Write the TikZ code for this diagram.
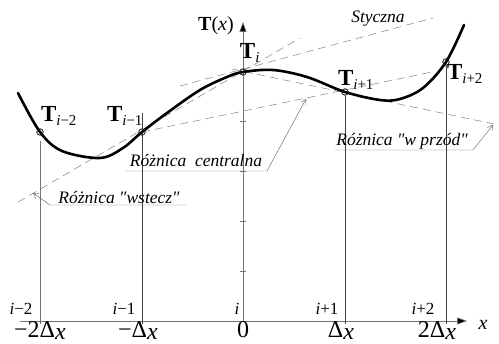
\documentclass[tikz,border=0pt]{standalone}
\usepackage{fontspec}
\setmainfont{Liberation Serif}[Ligatures=TeXOff]
\usetikzlibrary{arrows.meta}
\begin{document}
\begin{tikzpicture}[x=1pt,y=-1pt,
  dashln/.style={draw=black!50, line width=0.5pt, dash pattern=on 8pt off 5pt},
  vline/.style={draw=black!75, line width=0.6pt},
  axisln/.style={draw=black!55, line width=0.6pt},
  leader/.style={draw=black!60, line width=0.45pt},
  ldarrow/.style={leader, -{Straight Barb[length=5pt,width=6pt,line width=0.45pt]}},
  pt/.style={circle, draw=black!85, line width=0.6pt, inner sep=0pt, minimum size=6.5pt},
  lbl/.style={font=\fontsize{17.5}{19}\selectfont\itshape, inner sep=0pt, text height=12pt, text depth=3pt},
  tlbl/.style={font=\fontsize{23}{25}\selectfont, inner sep=0pt},
  idx/.style={font=\fontsize{17}{19}\selectfont, inner sep=0pt},
  val/.style={font=\fontsize{24}{26}\selectfont, inner sep=0pt, anchor=base},
]
\useasboundingbox (0,0) rectangle (499,344);
\newcommand\Tlab[1]{\textbf{T}\textsubscript{\fontsize{15}{16}\selectfont #1}}

% axes
\coordinate (xa0) at (20,321);
\coordinate (xa1) at (467,321);
\coordinate (ya0) at (243,321);
\coordinate (ya1) at (243,22);
\draw[axisln, -{Triangle[length=10pt,width=7pt,fill=black]}] (xa0) -- (xa1);
\draw[axisln, -{Triangle[length=10pt,width=7pt,fill=black]}] (ya0) -- (ya1);
\foreach \yy in {121,171,221,271}
  \draw[axisln] (240,\yy) -- (246,\yy);

% points
\node[pt] (pm2) at (40,132) {};
\node[pt] (pm1) at (142,132) {};
\node[pt] (p0)  at (243,72) {};
\node[pt] (pp1) at (345,92) {};
\node[pt] (pp2) at (446,62) {};

% verticals
\coordinate (bm2) at (40,324);
\coordinate (bm1) at (142,324);
\coordinate (bp1) at (345,324);
\coordinate (bp2) at (446,324);
\coordinate (tm2) at (40,141);
\coordinate (tm1) at (142,113);
\draw[vline, draw=black!55, line width=0.9pt] (tm2) -- (bm2);
\draw[vline] (tm1) -- (bm1);
\draw[vline] (pp1.south) -- (bp1);
\draw[vline] (pp2.south) -- (bp2);

% dashed lines
\coordinate (bwA) at (18,202);
\coordinate (bwB) at (300,38);
\coordinate (ctB) at (432,72);
\coordinate (fwA) at (232,69);
\coordinate (fwB) at (494,124);
\coordinate (stA) at (180,86);
\coordinate (stB) at (433,18);
\draw[dashln] (bwA) -- (bwB);
\draw[dashln] (pm1.center) -- (ctB);
\draw[dashln] (fwA) -- (fwB);
\draw[dashln] (stA) -- (stB);

% curve
\draw[line width=2.6pt, line cap=round, line join=round]
  plot[smooth, tension=0.55] coordinates {(18,93) (40,132) (62,151) (100,158) (123,148) (142,132)
  (167,113) (200,90) (227,77) (243,72) (273,70) (307,77) (345,92) (380,100) (400,99) (423,88)
  (446,62) (464,25)};
\foreach \n in {pm2,pm1,p0,pp1,pp2} \draw[black!85, line width=0.6pt] (\n) circle (3.2pt);

% labels for points
\node[font=\fontsize{20}{22}\selectfont, inner sep=0pt] (tx) at (216,26) {\textbf{T}(\textit{x})};
\node[tlbl] (lt0) at (250,53) {\Tlab{\textit{i}}};
\node[tlbl] (ltm2) at (59,116) {\Tlab{\textit{i}−2}};
\node[tlbl] (ltm1) at (125,116) {\Tlab{\textit{i}−1}};
\node[tlbl] (ltp1) at (356,80) {\Tlab{\textit{i}+1}};
\node[tlbl] (ltp2) at (465,74) {\Tlab{\textit{i}+2}};

% annotations
\node[lbl] (sty) at (378,18) {Styczna};
\node[lbl] (lc) at (196,162) {Różnica\ \ centralna};
\node[lbl] (lw) at (119,199) {Różnica "wstecz"};
\node[lbl] (lf) at (402,141) {Różnica "w przód"};

\coordinate (lcA) at (125,171);
\coordinate (lcB) at (267,171);
\coordinate (lcT) at (306,99);
\draw[ldarrow] (lcA) -- (lcB) -- (lcT);
\coordinate (lwA) at (186,205);
\coordinate (lwB) at (50,205);
\coordinate (lwT) at (33,193);
\draw[ldarrow] (lwA) -- (lwB) -- (lwT);
\coordinate (lfA) at (335,150);
\coordinate (lfB) at (473,150);
\coordinate (lfT) at (493,125);
\draw[ldarrow] (lfA) -- (lfB) -- (lfT);

% index labels
\node[idx] (im2) at (21,309) {\textit{i}−2};
\node[idx] (im1) at (124,309) {\textit{i}−1};
\node[idx] (i0) at (237,309) {\textit{i}};
\node[idx] (ip1) at (327,309) {\textit{i}+1};
\node[idx] (ip2) at (423,309) {\textit{i}+2};

% values
\node[val] (vm2) at (40,338) {−2Δ\raisebox{-2pt}{\textit{x}}};
\node[val] (vm1) at (138,338) {−Δ\raisebox{-2pt}{\textit{x}}};
\node[val] (v0) at (243,338) {0};
\node[val] (vp1) at (341,338) {Δ\raisebox{-2pt}{\textit{x}}};
\node[val] (vp2) at (437,338) {2Δ\raisebox{-2pt}{\textit{x}}};
\node[font=\fontsize{20}{22}\selectfont\itshape, inner sep=0pt] (xl) at (483,325) {x};
\end{tikzpicture}
\end{document}
